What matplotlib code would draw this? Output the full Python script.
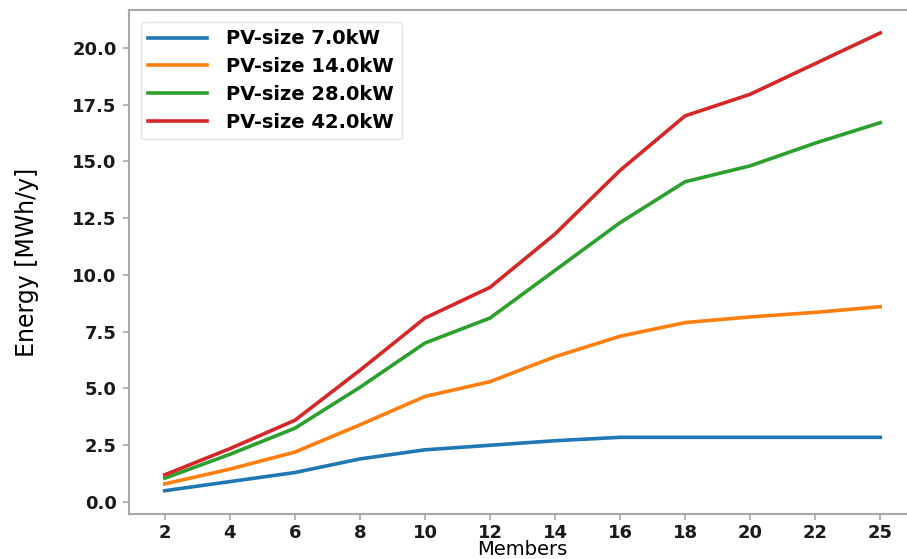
import matplotlib
matplotlib.use("Agg")
import matplotlib.pyplot as plt

members = ["2", "4", "6", "8", "10", "12", "14", "16", "18", "20", "22", "25"]
pv_7 = [0.5, 0.9, 1.3, 1.9, 2.3, 2.5, 2.7, 2.85, 2.85, 2.85, 2.85, 2.85]
pv_14 = [0.8, 1.45, 2.2, 3.4, 4.65, 5.3, 6.4, 7.3, 7.9, 8.15, 8.35, 8.6]
pv_28 = [1.05, 2.1, 3.25, 5.05, 7.0, 8.1, 10.2, 12.3, 14.1, 14.8, 15.8, 16.7]
pv_42 = [1.2, 2.35, 3.6, 5.8, 8.1, 9.45, 11.8, 14.6, 17.0, 17.95, 19.3, 20.65]
labels = ["PV-size 7.0kW", "PV-size 14.0kW", "PV-size 28.0kW", "PV-size 42.0kW"]
colors = ["#1f77b4", "#ff7f0e", "#2ca02c", "#d62728"]

fig = plt.figure(figsize=(9.07, 5.59), dpi=100)
ax = fig.add_axes([129/907, 45/559, (916-129)/907, (514-10)/559])

for vals, lab, c in zip([pv_7, pv_14, pv_28, pv_42], labels, colors):
    ax.plot(members, vals, color=c, linewidth=2.6, label=lab)

ax.set_ylim(-0.525, 21.66)
yt = [0, 2.5, 5, 7.5, 10, 12.5, 15, 17.5, 20]
ax.set_yticks(yt)
ax.set_yticklabels([f"{v:.1f}" for v in yt])

for s in ax.spines.values():
    s.set_color("#a8a8a8")
    s.set_linewidth(1.5)
ax.tick_params(colors="#a8a8a8", labelcolor="#1a1a1a", length=4, width=1.2, pad=5)
ax.tick_params(axis="x", pad=3)
for t in ax.get_xticklabels() + ax.get_yticklabels():
    t.set_fontweight("bold")
    t.set_fontsize(13)

ax.set_ylabel("Energy [MWh/y]", fontsize=17, labelpad=24)
ax.set_xlabel("Members", fontsize=14, labelpad=-1)

leg = ax.legend(loc="upper left", prop={"weight": "bold", "size": 14},
                handlelength=3.0, borderaxespad=0.6, labelspacing=0.45,
                handletextpad=1.0)
leg.get_frame().set_edgecolor("#dddddd")

fig.savefig("out.png", dpi=100)
